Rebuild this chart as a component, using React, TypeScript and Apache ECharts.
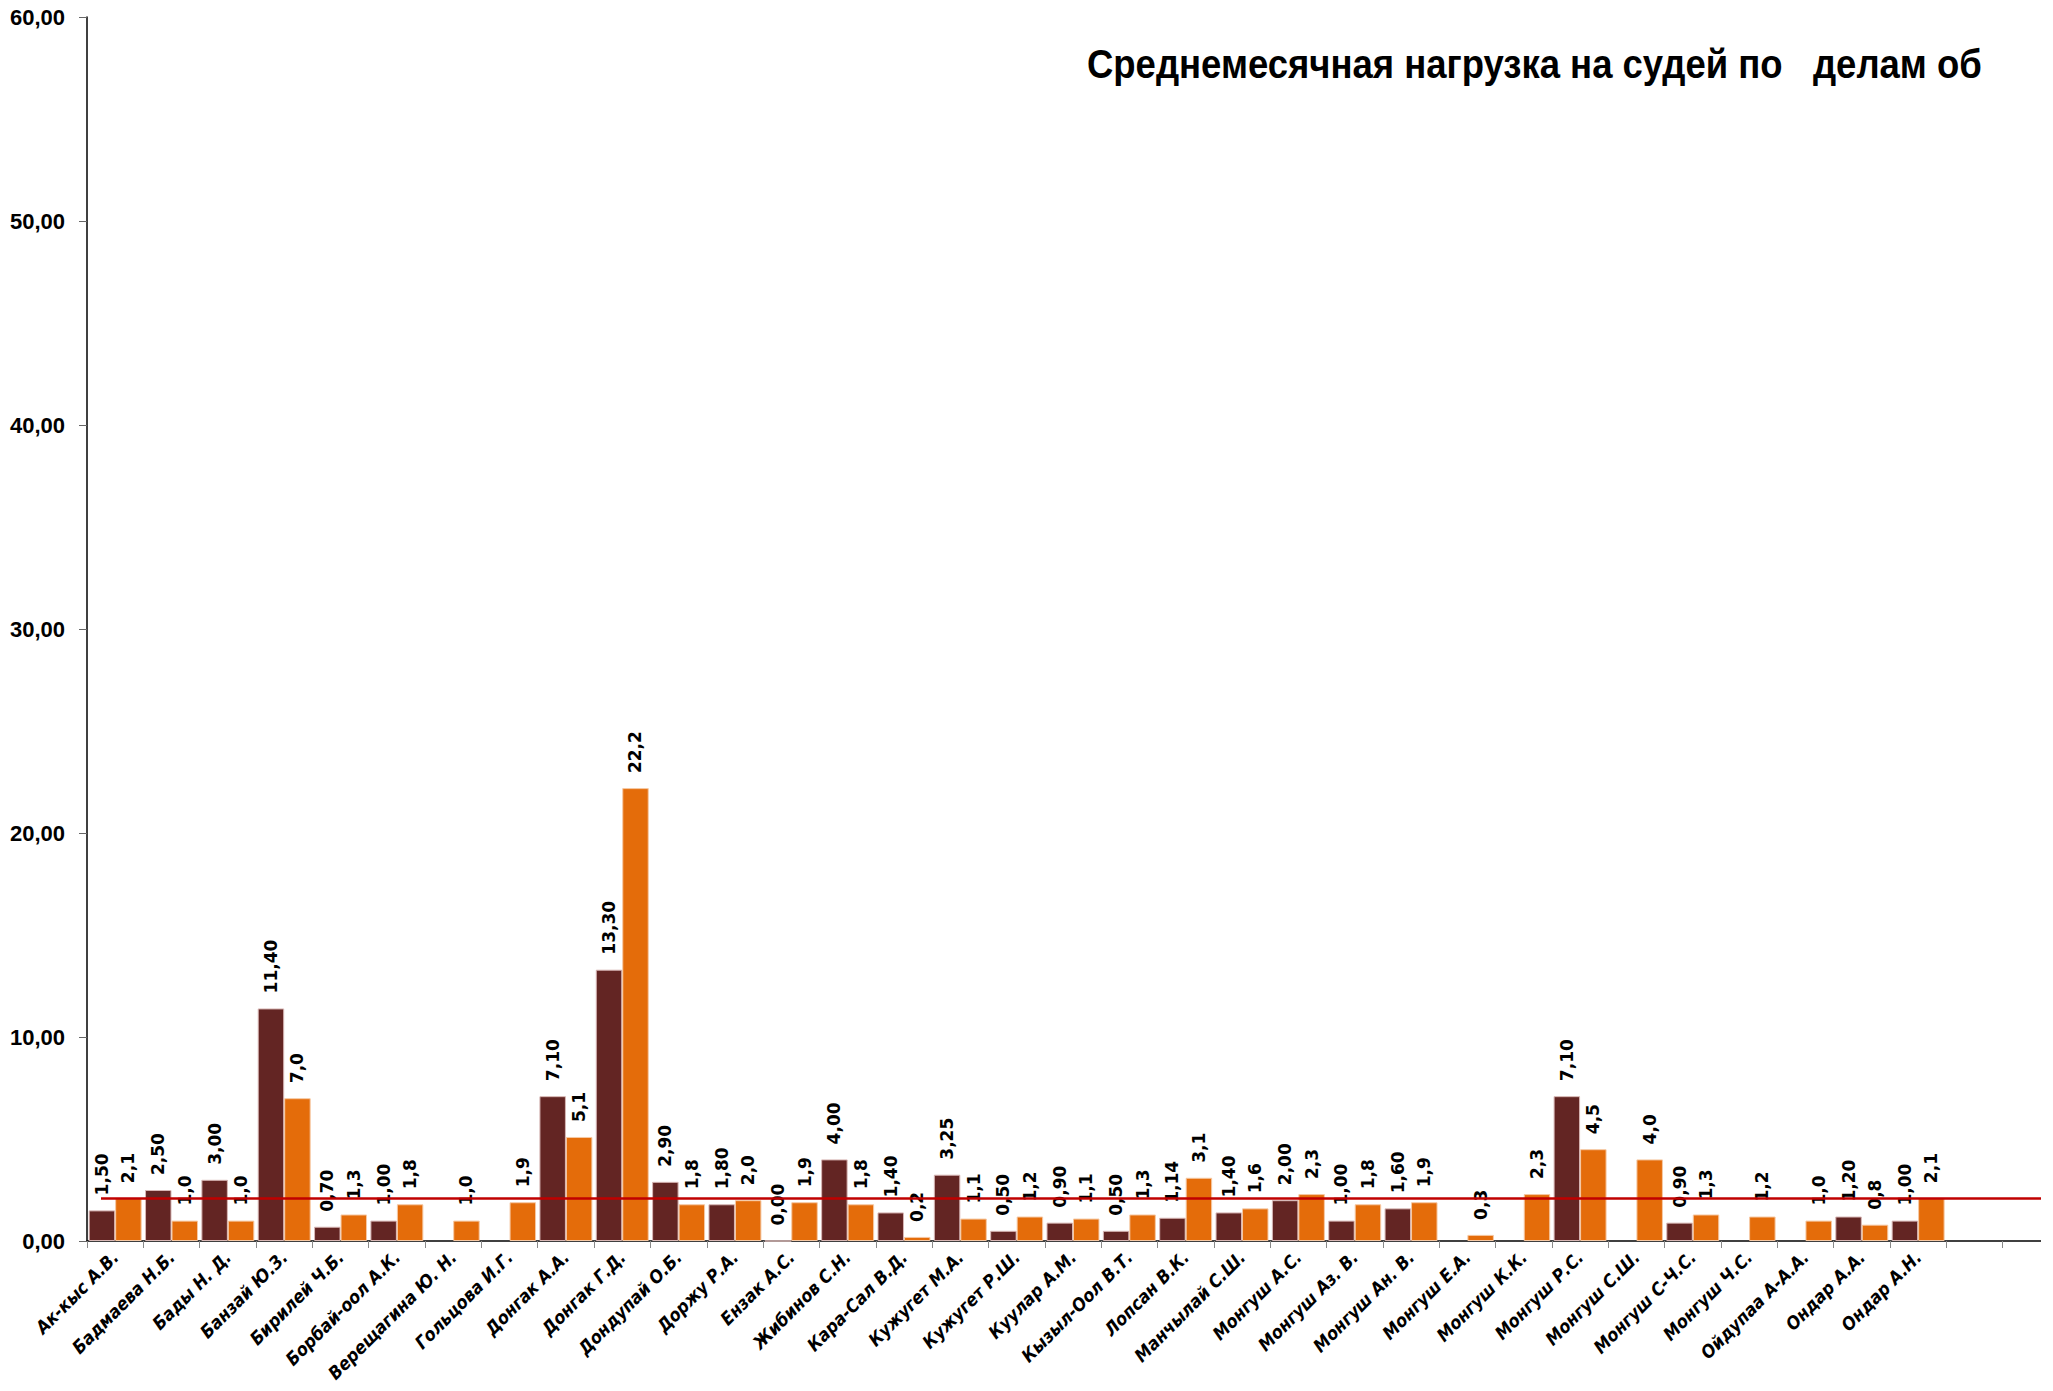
import React, { useEffect, useRef } from "react";
import * as echarts from "echarts";

const judges: string[] = [
  "Ак-кыс А.В.", "Бадмаева Н.Б.", "Бады Н. Д.", "Банзай Ю.З.", "Бирилей Ч.Б.",
  "Борбай-оол А.К.", "Верещагина Ю. Н.", "Гольцова И.Г.", "Донгак А.А.", "Донгак Г.Д.",
  "Дондупай О.Б.", "Доржу Р.А.", "Ензак А.С.", "Жибинов С.Н.", "Кара-Сал В.Д.",
  "Кужугет М.А.", "Кужугет Р.Ш.", "Куулар А.М.", "Кызыл-Оол В.Т.", "Лопсан В.К.",
  "Манчылай С.Ш.", "Монгуш А.С.", "Монгуш Аз. В.", "Монгуш Ан. В.", "Монгуш Е.А.",
  "Монгуш К.К.", "Монгуш Р.С.", "Монгуш С.Ш.", "Монгуш С-Ч.С.", "Монгуш Ч.С.",
  "Ойдупаа А-А.А.", "Ондар А.А.", "Ондар А.Н.", "", "",
];

const loadA: (number | null)[] = [
  1.5, 2.5, 3.0, 11.4, 0.7,
  1.0, null, null, 7.1, 13.3,
  2.9, 1.8, 0.0, 4.0, 1.4,
  3.25, 0.5, 0.9, 0.5, 1.14,
  1.4, 2.0, 1.0, 1.6, null,
  null, 7.1, null, 0.9, null,
  null, 1.2, 1.0, null, null,
];

const loadB: (number | null)[] = [
  2.1, 1.0, 1.0, 7.0, 1.3,
  1.8, 1.0, 1.9, 5.1, 22.2,
  1.8, 2.0, 1.9, 1.8, 0.2,
  1.1, 1.2, 1.1, 1.3, 3.1,
  1.6, 2.3, 1.8, 1.9, 0.3,
  2.3, 4.5, 4.0, 1.3, 1.2,
  1.0, 0.8, 2.1, null, null,
];

const averageLine = 2.1;

const titleText = "Среднемесячная нагрузка на судей по   делам об";

const fmt = (v: any, d: number) =>
  v === null || v === undefined || v === "-" || isNaN(Number(v))
    ? ""
    : Number(v).toFixed(d).replace(".", ",");

export default function App() {
  const ref = useRef<HTMLDivElement>(null);

  useEffect(() => {
    if (!ref.current) return;
    const chart = echarts.init(ref.current, undefined, { renderer: "svg" });
    const labelBase = {
      show: true,
      position: "top",
      rotate: 90,
      align: "left",
      verticalAlign: "middle",
      distance: 15,
      color: "#000",
      fontFamily: "DejaVu Sans",
      fontWeight: "bold",
      fontSize: 17,
    };
    chart.setOption({
      animation: false,
      backgroundColor: "#fff",
      graphic: [
        {
          type: "text",
          x: 1087,
          y: 64,
          scaleX: 0.89,
          style: {
            text: titleText,
            fill: "#000",
            font: "bold 41px 'Liberation Sans', Arial, sans-serif",
            textVerticalAlign: "middle",
            textAlign: "left",
          },
        },
      ],
      grid: { left: 87, top: 17, width: 1972, height: 1224 },
      xAxis: {
        type: "category",
        data: judges,
        axisLine: { lineStyle: { color: "#000", width: 1.5 } },
        axisTick: { show: true, length: 7, lineStyle: { color: "#888" } },
        axisLabel: {
          interval: 0,
          rotate: 45,
          margin: 13,
          color: "#000",
          fontFamily: "'DejaVu Sans Condensed', 'DejaVu Sans', sans-serif",
          fontStyle: "italic",
          fontWeight: "bold",
          fontSize: 18,
        },
      },
      yAxis: {
        type: "value",
        min: 0,
        max: 60,
        interval: 10,
        splitLine: { show: false },
        axisLine: { show: true, lineStyle: { color: "#000", width: 1.5 } },
        axisTick: { show: true, length: 8, lineStyle: { color: "#666" } },
        axisLabel: {
          margin: 22,
          color: "#000",
          fontFamily: "Liberation Sans",
          fontWeight: "bold",
          fontSize: 22,
          formatter: (v: number) => fmt(v, 2),
        },
      },
      series: [
        {
          name: "A",
          type: "bar",
          data: loadA,
          barGap: "0%",
          barCategoryGap: "6%",
          itemStyle: { color: "#632523", borderColor: "#d8b7b5", borderWidth: 1 },
          label: { ...labelBase, formatter: (p: any) => fmt(p.value, 2) },
        },
        {
          name: "B",
          type: "bar",
          data: loadB,
          barGap: "0%",
          barCategoryGap: "6%",
          itemStyle: { color: "#E46C0A", borderColor: "#f6c9a4", borderWidth: 1 },
          label: { ...labelBase, formatter: (p: any) => fmt(p.value, 1) },
        },
      ],
    });
    const yPx = chart.convertToPixel({ yAxisIndex: 0 }, averageLine) as number;
    chart.setOption({
      series: [
        {},
        {},
        {
          name: "avg",
          type: "line",
          data: [],
          z: 5,
          markLine: {
            silent: true,
            symbol: ["none", "none"],
            label: { show: false },
            lineStyle: { color: "#C00000", width: 2.5, type: "solid" },
            data: [[{ x: 101, y: yPx }, { x: 2041, y: yPx }]],
          },
        },
      ],
    });
    return () => chart.dispose();
  }, []);

  return (
    <div
      style={{
        position: "absolute",
        left: 0,
        top: 0,
        width: 2041,
        height: 1391,
        overflow: "hidden",
      }}
    >
      <div ref={ref} style={{ width: 2100, height: 1391 }} />
    </div>
  );
}
